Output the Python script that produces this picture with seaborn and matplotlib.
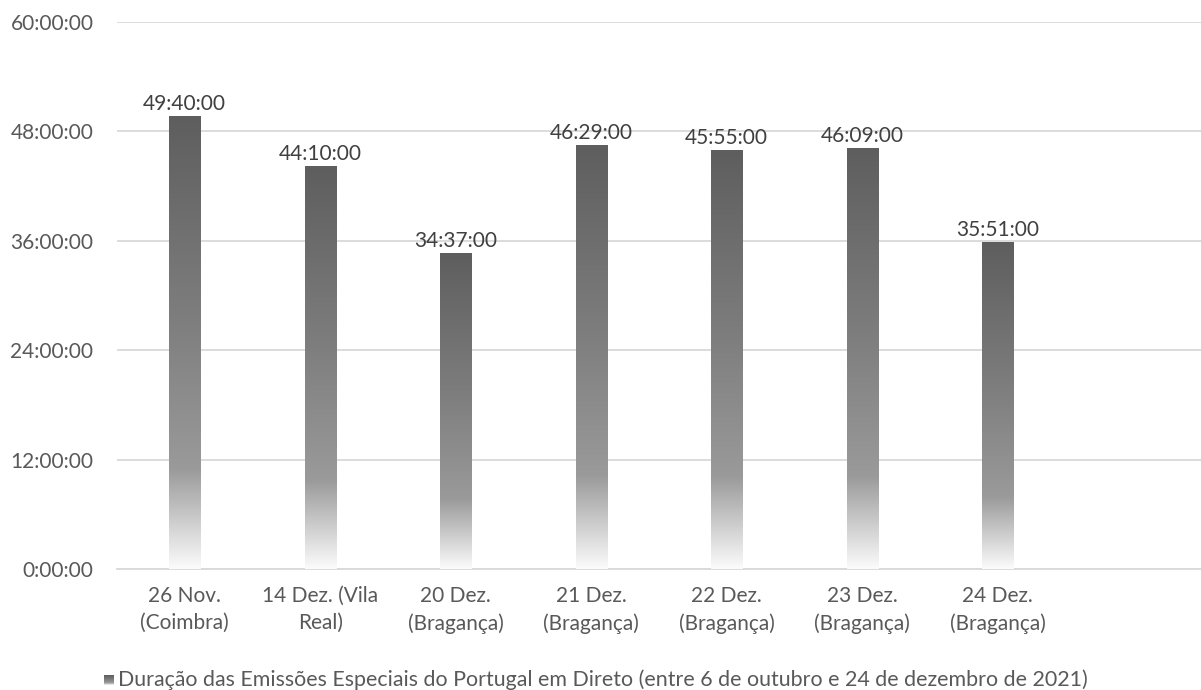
import numpy as np
import pandas as pd
import matplotlib
matplotlib.use("Agg")
import matplotlib.pyplot as plt
from matplotlib.colors import LinearSegmentedColormap
from matplotlib.patches import Rectangle
import seaborn as sns

# Broadcast days and total duration of the special programmes (h:mm:ss)
dias = ["26 Nov.\n(Coimbra)", "14 Dez. (Vila\nReal)", "20 Dez.\n(Bragança)",
        "21 Dez.\n(Bragança)", "22 Dez.\n(Bragança)", "23 Dez.\n(Bragança)",
        "24 Dez.\n(Bragança)"]
duracoes = ["49:40:00", "44:10:00", "34:37:00", "46:29:00", "45:55:00",
            "46:09:00", "35:51:00"]
y_ticks_horas = [0, 12, 24, 36, 48, 60]
serie = "Duração das Emissões Especiais do Portugal em Direto (entre 6 de outubro e 24 de dezembro de 2021)"


def para_horas(txt):
    h, m, s = (int(p) for p in txt.split(":"))
    return h + m / 60 + s / 3600


def formato_hms(horas):
    total = int(round(horas * 3600))
    h, rest = divmod(total, 3600)
    m, s = divmod(rest, 60)
    return f"{h}:{m:02d}:{s:02d}"


df = pd.DataFrame({"dia": dias, "horas": [para_horas(d) for d in duracoes],
                   "rotulo": duracoes})

sns.set_theme(style="white")
plt.rcParams["font.family"] = ["Lato", "DejaVu Sans"]

fig = plt.figure(figsize=(12.01, 6.90), dpi=100)
ax = fig.add_axes([117 / 1201, 121 / 690, 1 - 117 / 1201, (569 - 22) / 690])

sns.barplot(data=df, x="dia", y="horas", order=dias, color="#5f5f5f",
            width=0.23, ax=ax, zorder=3)

# Vertical gray gradient: dark at the top, fading to white at the base
grad = LinearSegmentedColormap.from_list(
    "fade", [(0.0, "#fbfbfb"), (0.22, "#9a9a9a"), (0.55, "#7e7e7e"), (1.0, "#5e5e5e")])
ramp = np.linspace(0, 1, 256).reshape(-1, 1)
for bar in list(ax.patches):
    x0, w, h = bar.get_x(), bar.get_width(), bar.get_height()
    bar.set_visible(False)
    im = ax.imshow(ramp, cmap=grad, origin="lower", aspect="auto",
                   extent=(x0, x0 + w, 0, h), zorder=3, interpolation="bilinear")
    clip = Rectangle((x0, 0), w, h, transform=ax.transData)
    im.set_clip_path(clip)

# Value labels above each bar
for i, (h, txt) in enumerate(zip(df["horas"], df["rotulo"])):
    ax.text(i, h + 0.25, txt, ha="center", va="bottom", fontsize=15,
            color="#404040", zorder=4)

ax.set_xlim(-0.5, 7.5)
ax.set_ylim(0, 60)
ax.set_yticks(y_ticks_horas)
ax.set_yticklabels([formato_hms(v) for v in y_ticks_horas])
ax.set_xticks(range(len(dias)))
ax.set_xticklabels(dias, linespacing=1.45)
ax.tick_params(axis="y", labelsize=15, labelcolor="#595959", length=0, pad=17)
ax.tick_params(axis="x", labelsize=15, labelcolor="#595959", length=0, pad=12)
ax.set_xlabel("")
ax.set_ylabel("")

ax.yaxis.grid(True, color="#d9d9d9", linewidth=1.3, zorder=0)
ax.set_axisbelow(True)
for side in ["top", "right", "left"]:
    ax.spines[side].set_visible(False)
ax.spines["bottom"].set_color("#d9d9d9")
ax.spines["bottom"].set_linewidth(1.3)

# Legend with a small gradient swatch
fig.text(118 / 1201, 10 / 690, serie, ha="left", va="center",
         fontsize=15.4, color="#595959")
sw = fig.add_axes([104 / 1201, 5 / 690, 10 / 1201, 10 / 690])
sw.imshow(ramp, cmap=grad, origin="lower", aspect="auto", extent=(0, 1, 0, 1))
sw.axis("off")

fig.savefig("out.png", dpi=100, facecolor="white")
